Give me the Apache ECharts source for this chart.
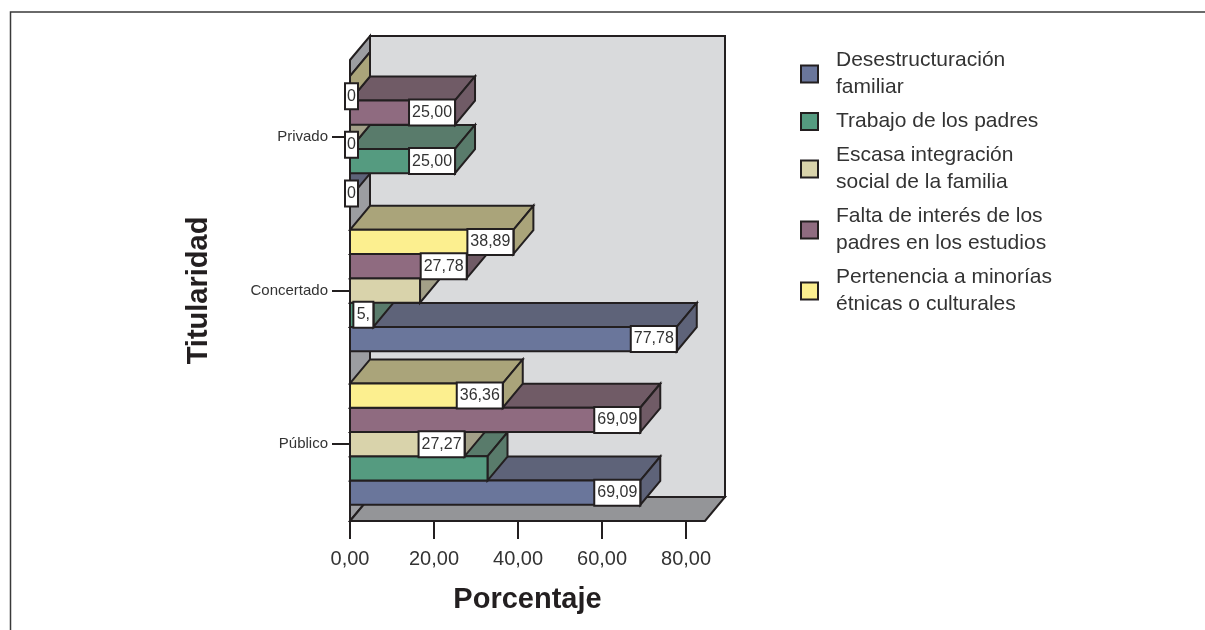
<!DOCTYPE html>
<html>
<head>
<meta charset="utf-8">
<style>html,body{margin:0;padding:0;background:#fff}#c{width:1205px;height:630px}</style>
<script src="https://cdn.jsdelivr.net/npm/echarts@6/dist/echarts.min.js"></script>
</head>
<body>
<div id="c"></div>
<script>
const categories = ["Público", "Concertado", "Privado"];
const seriesNames = ["Desestructuración\nfamiliar", "Trabajo de los padres", "Escasa integración\nsocial de la familia", "Falta de interés de los\npadres en los estudios", "Pertenencia a minorías\nétnicas o culturales"];
const desestructuracion = [69.09, 77.78, 0];
const trabajo = [32.73, 5.56, 25];
const integracion = [27.27, 16.67, 0];
const interes = [69.09, 27.78, 25];
const minorias = [36.36, 38.89, 0];
const desestructuracionLabels = ["69,09", "77,78", "0"];
const trabajoLabels = [null, "5,", "25,00"];
const integracionLabels = ["27,27", null, "0"];
const interesLabels = ["69,09", "27,78", "25,00"];
const minoriasLabels = ["36,36", "38,89", "0"];
const xTicks = [0, 20, 40, 60, 80];

const allValues = [desestructuracion, trabajo, integracion, interes, minorias];
const allLabels = [desestructuracionLabels, trabajoLabels, integracionLabels, interesLabels, minoriasLabels];
const frontColors = ["#6a769b", "#559b80", "#d9d3ab", "#8f6b80", "#fcef8f"];
const sideColors = ["#5e6379", "#597b6b", "#a3a088", "#705b66", "#aaa47a"];
const ink = "#231f20";
const DX = 20, DY = -24, BAR_SHARE = 0.79, LW = 2;

function barBox(api, value, cat, idx) {
  const band = api.size([0, 1])[1];
  const h = band * BAR_SHARE / 5;
  const c = api.coord([value, cat]);
  const o = api.coord([0, cat]);
  const bottom = c[1] + 2.5 * h - idx * h;
  return { x0: o[0], x1: c[0], top: bottom - h, bottom: bottom, h: h, mid: bottom - h / 2 };
}
function poly(pts, fill) {
  return { type: "polygon", shape: { points: pts }, style: { fill: fill, stroke: ink, lineWidth: LW, lineJoin: "miter" } };
}

const wallSeries = {
  type: "custom", name: "walls", silent: true, z: 2, animation: false, clip: false,
  data: [[0, 0]],
  renderItem: function (params) {
    const g = params.coordSys;
    const l = g.x, r = g.x + g.width, t = g.y, b = g.y + g.height;
    return { type: "group", children: [
      poly([[l + DX, t + DY], [r + DX, t + DY], [r + DX, b + DY], [l + DX, b + DY]], "#d9dadc"),
      poly([[l, t], [l + DX, t + DY], [l + DX, b + DY], [l, b]], "#9c9da1"),
      poly([[l, b], [l + DX, b + DY], [r + DX, b + DY], [r, b]], "#949598")
    ] };
  }
};

const barSeries = allValues.map(function (vals, si) {
  return {
    type: "custom", name: seriesNames[si], silent: true, z: 3 + si, animation: false, clip: false,
    itemStyle: { color: frontColors[si] },
    encode: { x: 0, y: 1 },
    data: vals.map(function (v, i) { return [v, i]; }),
    renderItem: function (params, api) {
      const b = barBox(api, api.value(0), api.value(1), si);
      return { type: "group", children: [
        poly([[b.x0, b.top], [b.x0 + DX, b.top + DY], [b.x1 + DX, b.top + DY], [b.x1, b.top]], sideColors[si]),
        poly([[b.x1, b.top], [b.x1 + DX, b.top + DY], [b.x1 + DX, b.bottom + DY], [b.x1, b.bottom]], sideColors[si]),
        poly([[b.x0, b.top], [b.x1, b.top], [b.x1, b.bottom], [b.x0, b.bottom]], frontColors[si])
      ] };
    }
  };
});

const labelRows = [];
allValues.forEach(function (vals, si) {
  vals.forEach(function (v, i) {
    if (allLabels[si][i] !== null) labelRows.push([v, i, si, allLabels[si][i]]);
  });
});
const labelSeries = {
  type: "custom", name: "labels", silent: true, z: 20, animation: false, clip: false,
  encode: { x: 0, y: 1 },
  data: labelRows,
  renderItem: function (params, api) {
    const row = labelRows[params.dataIndex];
    const b = barBox(api, row[0], row[1], row[2]);
    const text = row[3];
    const w = text.length === 1 ? 13 : (text.length === 2 ? 20 : 46);
    const h = 26;
    const zero = row[0] === 0;
    const right = b.x1 + (zero ? 8 : 0);
    const cy = b.mid + (zero ? 8 : 0);
    return { type: "group", children: [
      { type: "rect", shape: { x: right - w, y: cy - h / 2, width: w, height: h },
        style: { fill: "#ffffff", stroke: ink, lineWidth: LW } },
      { type: "text", style: { x: right - w / 2, y: cy, text: text, fill: "#333333",
        font: "16px 'Liberation Sans'", align: "center", verticalAlign: "middle" } }
    ] };
  }
};

const chart = echarts.init(document.getElementById("c"), null, { renderer: "canvas" });
chart.setOption({
  animation: false,
  backgroundColor: "#ffffff",
  textStyle: { fontFamily: "'Liberation Sans'" },
  grid: { left: 350, top: 60, width: 355, height: 461, containLabel: false },
  xAxis: {
    type: "value", min: 0, max: 84.5, interval: 20,
    name: "Porcentaje", nameLocation: "middle", nameGap: 64,
    nameTextStyle: { fontFamily: "'Liberation Sans'", fontSize: 29, fontWeight: "bold", color: ink },
    axisLine: { show: false },
    axisTick: { show: true, length: 18, customValues: xTicks, lineStyle: { color: ink, width: 2 } },
    axisLabel: { customValues: xTicks, margin: 28, fontSize: 20, color: "#333333", fontFamily: "'Liberation Sans'",
      formatter: function (v) { return v.toFixed(2).replace(".", ","); } },
    splitLine: { show: false }
  },
  yAxis: {
    type: "category", data: categories,
    name: "Titularidad", nameLocation: "middle", nameGap: 137, nameRotate: 90,
    nameTextStyle: { fontFamily: "'Liberation Sans'", fontSize: 29, fontWeight: "bold", color: ink },
    axisLine: { show: false },
    axisTick: { show: true, alignWithLabel: true, length: 18, lineStyle: { color: ink, width: 2 } },
    axisLabel: { margin: 22, fontSize: 15, color: "#333333", fontFamily: "'Liberation Sans'" },
    splitLine: { show: false }
  },
  legend: {
    show: true, orient: "vertical", left: 795, top: 42, itemWidth: 17, itemHeight: 17, itemGap: 7,
    data: seriesNames, selectedMode: false, icon: "rect",
    itemStyle: { borderColor: ink, borderWidth: 2 },
    textStyle: { fontFamily: "'Liberation Sans'", fontSize: 21, lineHeight: 27, color: "#333333", padding: [0, 0, 0, 13] }
  },
  graphic: [
    { type: "polyline", silent: true, shape: { points: [[10.5, 630], [10.5, 12], [1205, 12]] },
      style: { fill: null, stroke: "#3a3a3a", lineWidth: 1.5 } }
  ],
  series: [wallSeries].concat(barSeries, [labelSeries])
});
</script>
</body>
</html>
